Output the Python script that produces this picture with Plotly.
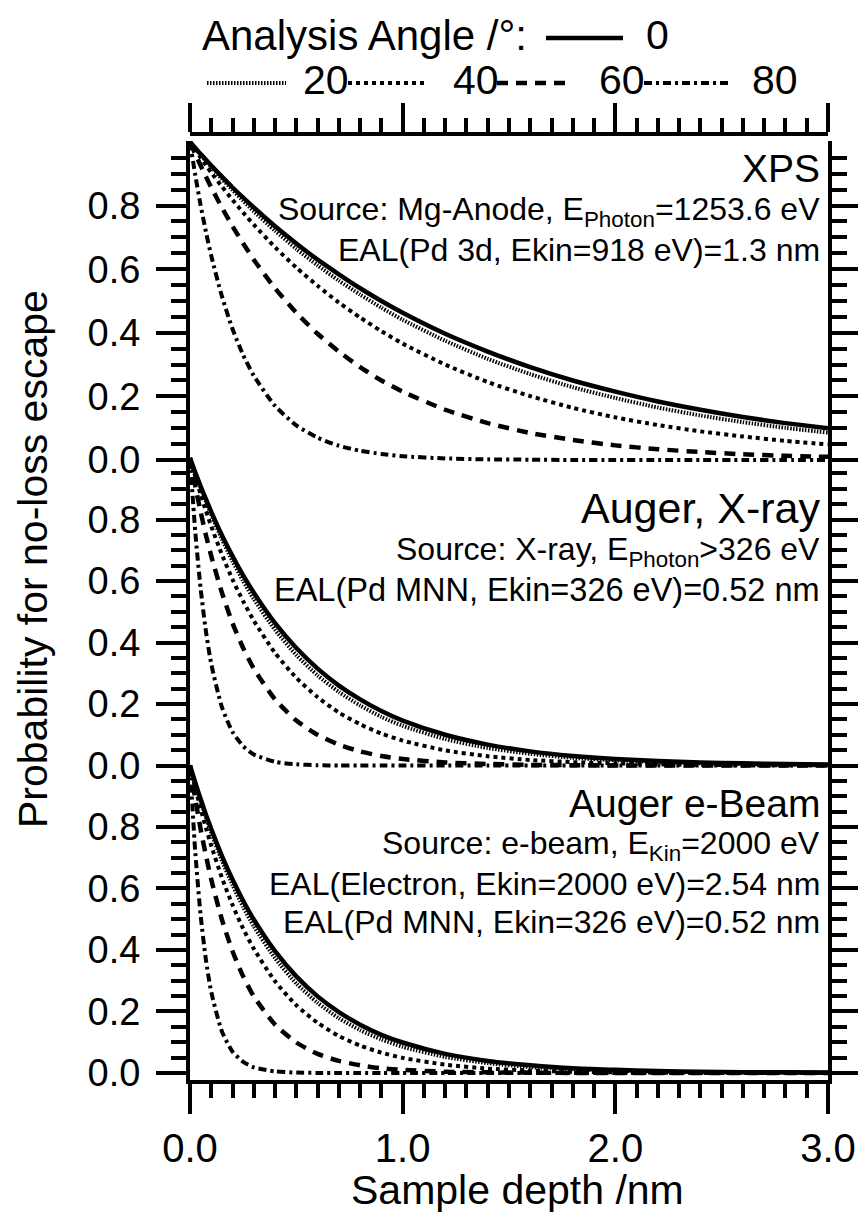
import plotly.graph_objects as go

# ---------------- data ----------------
depth_nm = [0, 0.025, 0.05, 0.075, 0.1, 0.15, 0.2, 0.25, 0.3, 0.4, 0.5, 0.6, 0.7,
            0.8, 0.9, 1.0, 1.2, 1.4, 1.6, 1.8, 2.0, 2.2, 2.4, 2.6, 2.8, 3.0]
angle_labels = ["0", "20", "40", "60", "80"]

xps_0 = [1.00, .981, .962, .944, .926, .891, .857, .825, .794, .735, .681, .630, .584,
         .540, .500, .463, .397, .341, .292, .250, .215, .184, .158, .135, .116, .100]
xps_20 = [1.00, .980, .960, .940, .921, .884, .849, .815, .782, .721, .664, .612, .564,
          .520, .479, .441, .375, .318, .270, .229, .195, .165, .140, .119, .101, .086]
xps_40 = [1.00, .975, .951, .927, .904, .860, .818, .778, .740, .669, .605, .548, .495,
          .448, .405, .366, .300, .245, .201, .164, .134, .110, .090, .074, .060, .049]
xps_60 = [1.00, .962, .926, .891, .857, .794, .735, .681, .630, .540, .463, .397, .341,
          .292, .250, .215, .158, .116, .085, .063, .046, .034, .025, .018, .013, .010]
xps_80 = [1.00, .895, .801, .717, .642, .515, .412, .330, .265, .170, .109, .070, .045,
          .029, .019, .012, .005, .002, .001, 0, 0, 0, 0, 0, 0, 0]

augx_0 = [1.00, .953, .908, .866, .825, .749, .681, .618, .562, .463, .382, .315, .260,
          .215, .177, .146, .100, .068, .046, .031, .021, .015, .010, .007, .005, .003]
augx_20 = [1.00, .950, .903, .858, .815, .736, .664, .600, .541, .441, .359, .293, .239,
           .195, .158, .129, .086, .057, .038, .025, .017, .011, .007, .005, .003, .002]
augx_40 = [1.00, .939, .882, .828, .778, .686, .605, .534, .471, .366, .285, .222, .172,
           .134, .104, .081, .049, .030, .018, .011, .007, .004, .002, .001, .001, .001]
augx_60 = [1.00, .908, .825, .749, .681, .562, .463, .382, .315, .215, .146, .100, .068,
           .046, .031, .021, .010, .005, .002, .001, 0, 0, 0, 0, 0, 0]
augx_80 = [1.00, .758, .575, .436, .330, .190, .109, .063, .036, .012, .004, .001, 0,
           0, 0, 0, 0, 0, 0, 0, 0, 0, 0, 0, 0, 0]

auge_0 = [1.00, .944, .891, .840, .793, .706, .629, .560, .499, .396, .314, .249, .198,
          .157, .124, .099, .062, .039, .025, .015, .010, .006, .004, .002, .002, .001]
auge_20 = [1.00, .940, .884, .831, .781, .691, .611, .540, .477, .373, .291, .228, .178,
           .139, .109, .085, .052, .032, .019, .012, .007, .004, .003, .002, .001, .001]
auge_40 = [1.00, .927, .860, .797, .739, .635, .546, .469, .404, .298, .220, .163, .120,
           .089, .066, .049, .027, .014, .008, .004, .002, .001, 0, 0, 0, 0]
auge_60 = [1.00, .891, .793, .707, .629, .499, .396, .314, .249, .157, .099, .062, .039,
           .025, .015, .010, .004, .002, .001, 0, 0, 0, 0, 0, 0, 0]
auge_80 = [1.00, .716, .513, .367, .263, .135, .069, .036, .018, .005, .001, 0, 0,
           0, 0, 0, 0, 0, 0, 0, 0, 0, 0, 0, 0, 0]

panel_series = {
    "top": [xps_0, xps_20, xps_40, xps_60, xps_80],
    "mid": [augx_0, augx_20, augx_40, augx_60, augx_80],
    "bot": [auge_0, auge_20, auge_40, auge_60, auge_80],
}
y_tick_vals = [0, 0.2, 0.4, 0.6, 0.8]
y_tick_text = ["0.0", "0.2", "0.4", "0.6", "0.8"]
y_minor_vals = [v / 100 for v in range(5, 100, 5) if v % 20 != 0]
x_tick_vals = [0, 1, 2, 3]
x_tick_text = ["0.0", "1.0", "2.0", "3.0"]
x_minor_vals = [v / 10 for v in range(1, 30) if v % 10 != 0]

# ---------------- layout geometry (pixels) ----------------
W, H = 858, 1213
L, R = 190, 828
TOP, BOT = 134, 1080
PH = BOT - TOP
PW = R - L
FONT = "Liberation Sans, Arial, sans-serif"


def fx(px):
    return (px - L) / PW


def fy(py):
    return (BOT - py) / PH


# panel: zero pixel, pixels per unit, y-range
panels = {
    "bot": dict(zero=1073.0, scale=307.5, rng=[-0.023, 1.012], ax="y"),
    "mid": dict(zero=765.5, scale=307.5, rng=[-0.012, 1.012], ax="y2"),
    "top": dict(zero=460.0, scale=318.0, rng=[-0.012, 1.004], ax="y3"),
}

styles = [
    dict(dash="solid", width=4.5),
    dict(dash="1.5px,1.5px", width=4),
    dict(dash="4px,4px", width=4),
    dict(dash="11px,8px", width=4.5),
    dict(dash="8px,4px,3px,4px", width=4),
]

fig = go.Figure()
for key, series in panel_series.items():
    p = panels[key]
    xax = "x3" if key == "top" else "x"
    for vals, st, lab in zip(series, styles, angle_labels):
        fig.add_trace(go.Scatter(
            x=depth_nm, y=vals, mode="lines", name=lab, showlegend=False,
            xaxis=xax, yaxis=p["ax"],
            line=dict(color="black", width=st["width"], dash=st["dash"],
                      shape="spline", smoothing=0.6),
            hoverinfo="skip",
        ))

common_y = dict(
    showline=True, linecolor="black", linewidth=4, mirror="ticks",
    ticks="outside", ticklen=30, tickwidth=4, tickcolor="black",
    tickmode="array", tickvals=y_tick_vals, ticktext=y_tick_text,
    minor=dict(tickmode="array", tickvals=y_minor_vals, ticks="outside",
               ticklen=15, tickwidth=4, tickcolor="black", showgrid=False),
    showgrid=False, zeroline=False, anchor="x", automargin=False,
    tickfont=dict(family=FONT, size=38, color="black"),
    ticklabelstandoff=8,
)

layout_axes = {}
for key, p in panels.items():
    lo, hi = p["rng"]
    d0 = fy(p["zero"] - lo * p["scale"])
    d1 = fy(p["zero"] - hi * p["scale"])
    name = {"y": "yaxis", "y2": "yaxis2", "y3": "yaxis3"}[p["ax"]]
    layout_axes[name] = dict(common_y, range=[lo, hi],
                             domain=[max(0, d0), min(1, d1)])

fig.update_layout(
    width=W, height=H,
    margin=dict(l=L, r=W - R, t=TOP, b=H - BOT, pad=0, autoexpand=False),
    paper_bgcolor="white", plot_bgcolor="rgba(0,0,0,0)",
    font=dict(family=FONT, color="black"),
    xaxis=dict(
        range=[0, 3], domain=[0, 1], anchor="y", side="bottom",
        showline=True, linecolor="black", linewidth=4, mirror=False,
        ticks="outside", ticklen=30, tickwidth=4, tickcolor="black",
        tickmode="array", tickvals=x_tick_vals, ticktext=x_tick_text,
        minor=dict(tickmode="array", tickvals=x_minor_vals, ticks="outside",
                   ticklen=14, tickwidth=4, tickcolor="black", showgrid=False),
        showgrid=False, zeroline=False, automargin=False,
        tickfont=dict(family=FONT, size=40, color="black"),
        ticklabelstandoff=0,
    ),
    xaxis3=dict(
        range=[0, 3], domain=[0, 1], anchor="free", position=1, side="top",
        showline=True, linecolor="black", linewidth=4, automargin=False,
        ticks="outside", ticklen=29, tickwidth=4, tickcolor="black",
        tickmode="array", tickvals=x_tick_vals, showticklabels=False,
        minor=dict(tickmode="array", tickvals=x_minor_vals, ticks="outside",
                   ticklen=14, tickwidth=4, tickcolor="black", showgrid=False),
        showgrid=False, zeroline=False,
    ),
    **layout_axes,
)

ann = []


def text(px, py, s, size, anchor="right"):
    ann.append(dict(x=fx(px), y=fy(py), xref="paper", yref="paper", text=s,
                    showarrow=False, xanchor=anchor, yanchor="middle",
                    font=dict(family=FONT, size=size, color="black")))


# panel labels
text(822, 169, "XPS", 39)
text(822, 211, "Source: Mg-Anode, E<sub>Photon</sub>=1253.6 eV", 32)
text(822, 250, "EAL(Pd 3d, Ekin=918 eV)=1.3 nm", 32)

text(822, 508, "Auger, X-ray", 43)
text(822, 551, "Source: X-ray, E<sub>Photon</sub>&gt;326 eV", 32)
text(822, 590, "EAL(Pd MNN, Ekin=326 eV)=0.52 nm", 32.5)

text(822, 803, "Auger e-Beam", 39)
text(822, 845, "Source: e-beam, E<sub>Kin</sub>=2000 eV", 32)
text(822, 884, "EAL(Electron, Ekin=2000 eV)=2.54 nm", 32)
text(822, 922, "EAL(Pd MNN, Ekin=326 eV)=0.52 nm", 32)

# legend (drawn as text + line samples)
text(200, 35, "Analysis Angle /°:", 42, anchor="left")
text(644, 35, angle_labels[0], 41, anchor="left")
text(301, 80, angle_labels[1], 41, anchor="left")
text(451, 80, angle_labels[2], 41, anchor="left")
text(597, 80, angle_labels[3], 41, anchor="left")
text(750, 80, angle_labels[4], 41, anchor="left")

# axis titles
ann.append(dict(x=fx(517), y=fy(1190), xref="paper", yref="paper",
                text="Sample depth /nm", showarrow=False, xanchor="center",
                yanchor="middle", font=dict(family=FONT, size=41, color="black")))
ann.append(dict(x=fx(33), y=fy(559), xref="paper", yref="paper",
                text="Probability for no-loss escape", showarrow=False,
                textangle=-90, xanchor="center", yanchor="middle",
                font=dict(family=FONT, size=41, color="black")))

shapes = []
legend_segments = [(546, 623, 38), (207, 286, 83), (348, 428, 83), (497, 572, 83), (644, 728, 83)]
for (x0, x1, yy), st in zip(legend_segments, styles):
    shapes.append(dict(type="line", xref="paper", yref="paper",
                       x0=fx(x0), x1=fx(x1), y0=fy(yy), y1=fy(yy),
                       line=dict(color="black", width=st["width"], dash=st["dash"])))

fig.update_layout(annotations=ann, shapes=shapes)
fig.write_html("out.html")
